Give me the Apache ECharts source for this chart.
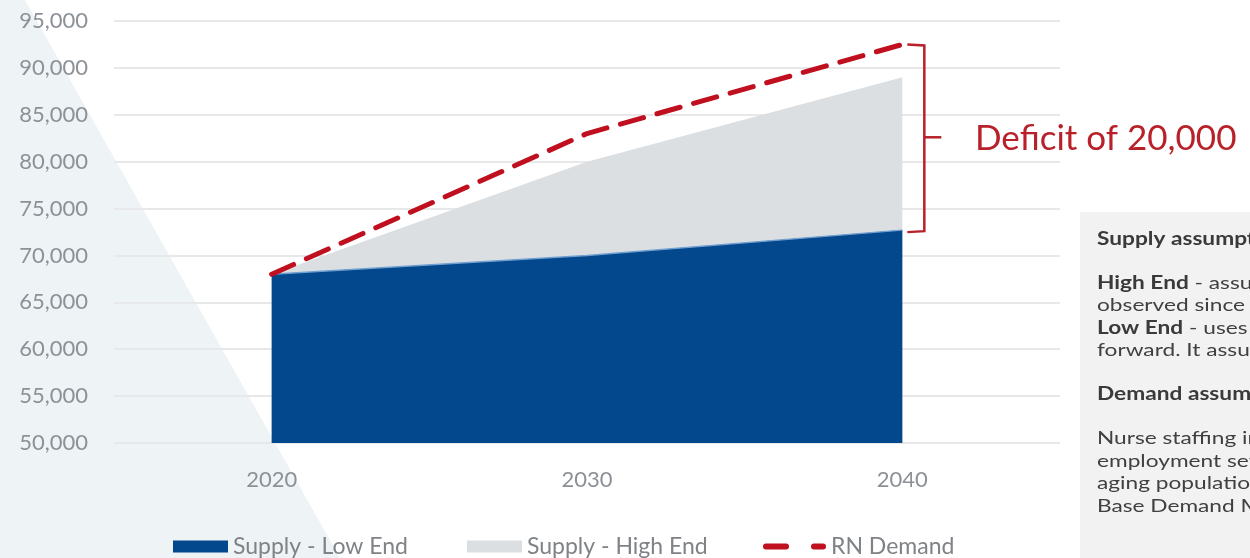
<!DOCTYPE html>
<html>
<head>
<meta charset="utf-8">
<script src="https://cdn.jsdelivr.net/npm/echarts@6/dist/echarts.min.js"></script>
<style>
html,body{margin:0;padding:0;background:#fff;}
#c{width:1250px;height:558px;}
</style>
</head>
<body>
<div id="c"></div>
<script>
const years = ['2020', '2030', '2040'];
const supplyLow = [68000, 70000, 72700];
const supplyHigh = [68000, 80000, 89000];
const rnDemand = [68000, 83000, 92500];
const yTicks = { min: 50000, max: 95000, step: 5000 };
const seriesNames = ['Supply - Low End', 'Supply - High End', 'RN Demand'];
const deficitLabel = 'Deficit of 20,000';
const noteLines = [
  [{ t: 'Supply assumptions', b: true }],
  [{ t: 'High End', b: true }, { t: ' - assumes the growth rate', b: false }],
  [{ t: 'observed since 2012 continues', b: false }],
  [{ t: 'Low End', b: true }, { t: ' - uses historical rates going', b: false }],
  [{ t: 'forward. It assumes fewer entrants', b: false }],
  [{ t: 'Demand assumptions', b: true }],
  [{ t: 'Nurse staffing intensity by', b: false }],
  [{ t: 'employment setting grows with the', b: false }],
  [{ t: 'aging population, per the HRSA', b: false }],
  [{ t: 'Base Demand Model scenario', b: false }]
];

const BLUE = '#03478c', GREY = '#dcdfe2', RED = '#c0101f';
const FONT = 'Lato';
const chart = echarts.init(document.getElementById('c'));

const noteY = [239, 283, 305, 328, 350, 394, 438, 461, 483, 506];
const noteGraphics = noteLines.map((parts, i) => ({
  type: 'text', x: 1097, y: noteY[i], z: 5, scaleX: 1.26,
  style: {
    text: parts.map(p => (p.b ? '{b|' : '{n|') + p.t + '}').join(''),
    verticalAlign: 'middle',
    rich: {
      b: { fontFamily: FONT, fontSize: 18, fontWeight: 'bold', fill: '#3a3a3a' },
      n: { fontFamily: FONT, fontSize: 18, fill: '#404040' }
    }
  }
}));

const legendText = { color: '#7f8286', fontFamily: FONT, fontSize: 23 };
const dashIcon = 'path://M3,0h20a3,3 0 0 1 0,6h-20a3,3 0 0 1 0,-6z M51,0h9a3,3 0 0 1 0,6h-9a3,3 0 0 1 0,-6z';

chart.setOption({
  animation: false,
  backgroundColor: '#ffffff',
  grid: { left: 114, right: 190, top: 21, bottom: 115 },
  xAxis: {
    type: 'category', data: years, boundaryGap: true,
    axisLine: { show: false }, axisTick: { show: false },
    axisLabel: { color: '#8c9197', fontFamily: FONT, fontSize: 22, margin: 26 }
  },
  yAxis: {
    type: 'value', min: yTicks.min, max: yTicks.max, interval: yTicks.step,
    axisLine: { show: false }, axisTick: { show: false },
    axisLabel: {
      color: '#8c9197', fontFamily: FONT, fontSize: 22, margin: 26,
      formatter: v => v.toLocaleString('en-US')
    },
    splitLine: { lineStyle: { color: '#e6e8ea', width: 2 } }
  },
  legend: [
    { left: 168, top: 530, itemWidth: 55, itemHeight: 12, textStyle: legendText,
      data: [{ name: seriesNames[0], icon: 'rect' }] },
    { left: 462, top: 530, itemWidth: 55, itemHeight: 12, textStyle: legendText,
      data: [{ name: seriesNames[1], icon: 'rect' }] },
    { left: 758, top: 530, itemWidth: 63, itemHeight: 6, textStyle: legendText,
      data: [{ name: seriesNames[2], icon: dashIcon }] }
  ],
  series: [
    {
      name: seriesNames[1], type: 'line', data: supplyHigh, symbol: 'none', z: 1,
      itemStyle: { color: GREY },
      lineStyle: { width: 0, color: GREY },
      areaStyle: { color: GREY, opacity: 1 }
    },
    {
      name: seriesNames[0], type: 'line', data: supplyLow, symbol: 'none', z: 2,
      itemStyle: { color: BLUE },
      lineStyle: { width: 1.5, color: '#6f9fd0' },
      areaStyle: { color: BLUE, opacity: 1 }
    },
    {
      name: seriesNames[2], type: 'line', data: rnDemand, symbol: 'none', z: 3,
      itemStyle: { color: RED },
      lineStyle: { width: 5, color: RED, type: [24, 14], cap: 'round' }
    }
  ]
});

const pTop = chart.convertToPixel({ xAxisIndex: 0, yAxisIndex: 0 }, [2, rnDemand[2]]);
const pBot = chart.convertToPixel({ xAxisIndex: 0, yAxisIndex: 0 }, [2, supplyLow[2]]);
const bx = pTop[0] + 22, mid = (pTop[1] + pBot[1]) / 2;
const BR = '#b82129';

chart.setOption({
  graphic: [
    { type: 'polygon', z: -10, silent: true,
      shape: { points: [[0, 0], [25, 0], [340, 558], [0, 558]] },
      style: { fill: '#eef3f6' } },
    { type: 'rect', z: 4, shape: { x: 1080, y: 212, width: 200, height: 400 },
      style: { fill: '#f2f2f2' } },
    { type: 'polyline', z: 6,
      shape: { points: [[bx - 17, pTop[1]], [bx, pTop[1] + 1], [bx, pBot[1] + 1], [bx - 17, pBot[1] + 2]] },
      style: { stroke: BR, lineWidth: 2.5, fill: null } },
    { type: 'line', z: 6, shape: { x1: bx, y1: mid, x2: bx + 17, y2: mid },
      style: { stroke: BR, lineWidth: 2.5 } },
    { type: 'text', z: 6, x: 975, y: mid + 1,
      style: { text: deficitLabel, fontFamily: FONT, fontSize: 35, fill: BR, verticalAlign: 'middle' } }
  ].concat(noteGraphics)
});
</script>
</body>
</html>
